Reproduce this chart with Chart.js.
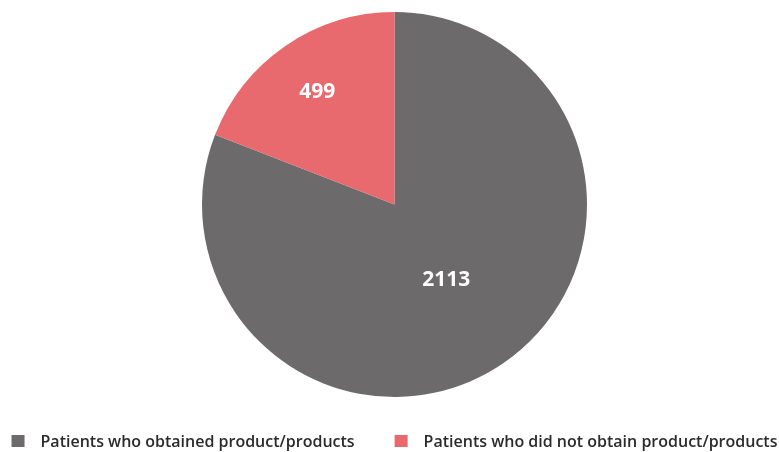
<!DOCTYPE html>
<html>
<head>
<meta charset="utf-8">
<script src="https://cdn.jsdelivr.net/npm/chart.js@4.4.1/dist/chart.umd.min.js"></script>
<style>
  html, body { margin: 0; padding: 0; background: #fff; }
  #wrap { width: 779px; height: 452px; }
</style>
</head>
<body>
<div id="wrap"><canvas id="pieChart" width="779" height="452"></canvas></div>
<script>
const labels = ["Patients who obtained product/products", "Patients who did not obtain product/products"];
const values = [2113, 499];
const colors = ["#6c6a6b", "#e8696e"];

// where each number sits, as a fraction of the radius
const labelRadius = [0.475, 0.71];

const valueLabels = {
  id: "valueLabels",
  afterDatasetsDraw(chart) {
    const c = chart.ctx;
    const meta = chart.getDatasetMeta(0);
    c.save();
    c.fillStyle = "#ffffff";
    c.font = "bold 21px 'Open Sans'";
    c.textAlign = "center";
    c.textBaseline = "middle";
    meta.data.forEach((arc, i) => {
      const mid = (arc.startAngle + arc.endAngle) / 2;
      const r = arc.outerRadius * labelRadius[i];
      const x = arc.x + Math.cos(mid) * r;
      const y = arc.y + Math.sin(mid) * r;
      c.fillText(values[i], x, y);
    });
    c.restore();
  },
};

// legend drawn by hand so the spacing can match the original
const bottomLegend = {
  id: "bottomLegend",
  afterDraw(chart) {
    const c = chart.ctx;
    const box = 13;
    const textGap = 16;
    const itemGap = 40;
    c.save();
    c.font = "600 16px 'Open Sans'";
    c.textBaseline = "alphabetic";
    c.textAlign = "left";
    let widths = labels.map((t) => c.measureText(t).width);
    let total = 0;
    widths.forEach((w, i) => {
      total += box + textGap + w;
      if (i > 0) total += itemGap;
    });
    let x = chart.width / 2 + 5 - total / 2;
    const y = 435;
    labels.forEach((t, i) => {
      c.fillStyle = colors[i];
      c.fillRect(x, y, box, 12);
      c.fillStyle = "#2b2b2b";
      c.fillText(t, x + box + textGap, y + 12);
      x += box + textGap + widths[i] + itemGap;
    });
    c.restore();
  },
};

const ctx = document.getElementById("pieChart").getContext("2d");

new Chart(ctx, {
  type: "pie",
  data: {
    labels: labels,
    datasets: [
      {
        data: values,
        backgroundColor: colors,
        borderWidth: 0,
      },
    ],
  },
  options: {
    responsive: false,
    animation: false,
    layout: {
      padding: { top: 12, bottom: 55, left: 10 },
    },
    plugins: {
      legend: { display: false },
      tooltip: { enabled: false },
    },
  },
  plugins: [valueLabels, bottomLegend],
});
</script>
</body>
</html>
